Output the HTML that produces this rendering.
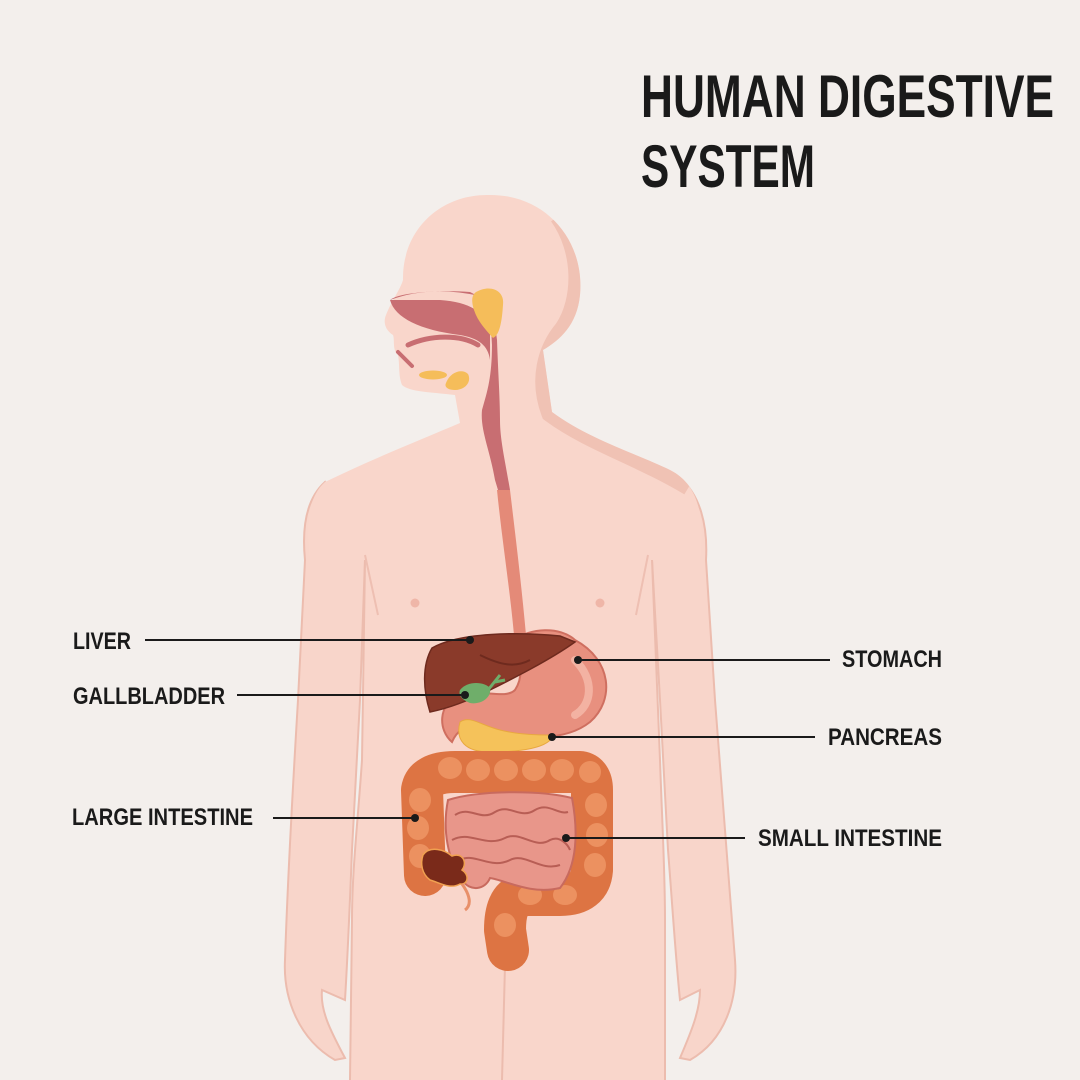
<!DOCTYPE html>
<html><head><meta charset="utf-8"><style>html,body{margin:0;padding:0;background:#f3efec}svg{display:block}</style></head>
<body>
<svg width="1080" height="1080" viewBox="0 0 1080 1080" xmlns="http://www.w3.org/2000/svg">
<defs>
<clipPath id="bc"><path d="M487 195 C545 193 585 240 580 295 C577 325 560 340 543 350 L552 412 C590 440 640 455 670 470 C700 485 705 520 700 560 L652 560 L660 760 C662 820 665 870 665 920 L665 1080 L350 1080 L352 920 C352 870 358 820 362 760 L365 560 L310 560 C305 520 310 495 325 482 C370 460 420 440 460 423 L455 395 C430 392 410 392 402 385 C398 375 400 365 398 355 C392 350 395 340 393 335 C385 330 383 322 386 315 C392 300 400 290 403 280 C402 230 440 195 487 195 Z"/></clipPath>
</defs>
<rect width="1080" height="1080" fill="#f3efec"/>
<path d="M325 482 C305 500 302 530 305 560 L298 700 C292 800 287 900 285 960 C283 1000 300 1040 335 1060 L345 1058 C330 1030 320 1010 322 990 L345 1000 C348 950 350 900 352 850 L360 700 L365 560 Z" fill="#f8d5ca" stroke="#ecbcae" stroke-width="2"/>
<path d="M680 478 C700 495 708 525 706 560 L715 700 C722 800 730 900 735 960 C738 1000 725 1040 690 1060 L680 1058 C692 1030 700 1010 700 990 L680 1000 C675 950 672 900 668 850 L660 700 L652 560 Z" fill="#f8d5ca" stroke="#ecbcae" stroke-width="2"/>
<path d="M487 195 C545 193 585 240 580 295 C577 325 560 340 543 350 L552 412 C590 440 640 455 670 470 C700 485 705 520 700 560 L652 560 L660 760 C662 820 665 870 665 920 L665 1080 L350 1080 L352 920 C352 870 358 820 362 760 L365 560 L310 560 C305 520 310 495 325 482 C370 460 420 440 460 423 L455 395 C430 392 410 392 402 385 C398 375 400 365 398 355 C392 350 395 340 393 335 C385 330 383 322 386 315 C392 300 400 290 403 280 C402 230 440 195 487 195 Z" fill="#f9d6cb"/>
<g clip-path="url(#bc)">
<path d="M560 215 C585 250 585 300 565 330 C548 350 540 380 552 412 C590 440 640 455 690 485" fill="none" stroke="#f0c2b4" stroke-width="22"/>
</g>
<path d="M365 560 L362 760 C358 820 352 870 352 920 L350 1080" fill="none" stroke="#ecbcae" stroke-width="2"/>
<path d="M652 560 L660 760 C662 820 665 870 665 920 L665 1080" fill="none" stroke="#ecbcae" stroke-width="2"/>
<path d="M505 965 L502 1080" stroke="#ecbcae" stroke-width="2"/>
<path d="M365 555 L378 615 M648 555 L636 615" stroke="#eebfb2" stroke-width="2" fill="none"/>
<circle cx="415" cy="603" r="4.5" fill="#efb6a8"/><circle cx="600" cy="603" r="4.5" fill="#efb6a8"/>
<path d="M390 300 C400 292 440 290 470 292 C478 296 485 300 490 310 L492 345 C492 380 486 395 482 410 C480 430 490 450 495 480 L498 490 L510 490 C505 460 500 440 500 420 C500 400 498 370 497 340 C495 320 490 305 480 296 Q430 285 390 300 Z" fill="#c86e72"/>
<path d="M390 300 C395 318 420 330 460 335 C478 338 488 345 490 360 L490 330 C485 312 470 302 440 300 Z" fill="#c86e72"/>
<path d="M408 345 C430 335 460 334 478 345" fill="none" stroke="#c86e72" stroke-width="5" stroke-linecap="round"/>
<path d="M398 352 L412 366" stroke="#c86e72" stroke-width="4" stroke-linecap="round"/>
<path d="M497 490 C502 540 510 590 514 635 L526 635 C522 590 516 540 510 490 Z" fill="#e48a78"/>
<path d="M476 292 C490 284 505 290 503 305 C502 320 500 335 493 338 C486 330 478 322 474 310 C471 300 472 295 476 292 Z" fill="#f5bd5a"/>
<ellipse cx="433" cy="375" rx="14" ry="4.5" fill="#f5bd5a"/>
<path d="M446 383 C450 372 462 368 468 374 C472 382 465 390 455 390 C448 390 444 387 446 383 Z" fill="#f5bd5a"/>
<path d="M514 640 C530 628 560 626 575 640 C612 660 615 700 590 722 C565 742 520 740 490 728 C470 722 458 728 452 742 C438 730 438 705 458 695 C480 688 505 700 515 690 C525 675 520 655 514 640 Z" fill="#e8907f" stroke="#cf6f60" stroke-width="2"/>
<path d="M575 660 C595 680 592 705 575 715" fill="none" stroke="#f3b2a2" stroke-width="8" stroke-linecap="round"/>
<path d="M460 722 C470 715 480 725 500 730 C520 735 540 735 553 735 C550 748 520 752 490 752 C465 752 455 740 460 722 Z" fill="#f5c25a" stroke="#e8a840" stroke-width="1"/>
<path d="M432 648 C460 632 520 632 560 636 L575 642 C550 660 510 680 490 690 C470 700 450 708 430 712 C423 690 422 665 432 648 Z" fill="#8a3a2a" stroke="#6e2a1e" stroke-width="1.5"/>
<path d="M480 655 C500 665 515 668 530 660" fill="none" stroke="#6e2a1e" stroke-width="2"/>
<path d="M460 690 C468 680 485 682 490 688 C492 698 480 705 470 703 C462 700 458 695 460 690 Z" fill="#6fae6a"/>
<path d="M488 690 L500 675 M495 682 L505 680" stroke="#6fae6a" stroke-width="3"/>
<path d="M425 875 L422 790 Q425 772 455 772 L580 772 Q592 774 592 790 L592 870 Q590 895 560 895 L520 895 Q505 900 505 930 L508 950" fill="none" stroke="#dd7443" stroke-width="42" stroke-linecap="round" stroke-linejoin="round"/>
<g fill="#ec9160">
<ellipse cx="450" cy="768" rx="12" ry="11"/><ellipse cx="478" cy="770" rx="12" ry="11"/><ellipse cx="506" cy="770" rx="12" ry="11"/><ellipse cx="534" cy="770" rx="12" ry="11"/><ellipse cx="562" cy="770" rx="12" ry="11"/><ellipse cx="590" cy="772" rx="11" ry="11"/>
<ellipse cx="420" cy="800" rx="11" ry="12"/><ellipse cx="418" cy="828" rx="11" ry="12"/><ellipse cx="420" cy="856" rx="11" ry="12"/>
<ellipse cx="596" cy="805" rx="11" ry="12"/><ellipse cx="597" cy="835" rx="11" ry="12"/><ellipse cx="595" cy="865" rx="11" ry="12"/>
<ellipse cx="565" cy="895" rx="12" ry="10"/><ellipse cx="530" cy="895" rx="12" ry="10"/><ellipse cx="505" cy="925" rx="11" ry="12"/>
</g>
<path d="M448 800 C480 790 540 790 572 798 C578 830 578 865 560 888 C530 895 505 880 490 878 C485 890 470 892 462 880 C448 860 442 830 448 800 Z" fill="#e8968a" stroke="#c86a5e" stroke-width="2"/>
<path d="M455 815 C470 805 480 822 495 812 C510 803 520 820 535 810 C548 802 558 815 568 812 M452 840 C470 830 485 848 505 838 C520 830 535 850 550 840 C560 835 568 845 570 850 M460 860 C475 852 490 870 510 860 C525 852 540 872 560 865" fill="none" stroke="#b85e55" stroke-width="2"/>
<path d="M423 855 C430 845 445 850 452 856 C462 852 468 862 462 870 C470 875 468 885 460 884 C450 890 438 882 430 880 C422 874 420 864 423 855 Z" fill="#7a2a1a" stroke="#f0a050" stroke-width="1.5"/>
<path d="M462 884 C470 895 472 905 465 910" fill="none" stroke="#e8906a" stroke-width="3"/>
<g stroke="#1a1a1a" stroke-width="2">
<line x1="145" y1="640" x2="470" y2="640"/><line x1="237" y1="695" x2="465" y2="695"/><line x1="273" y1="818" x2="415" y2="818"/>
<line x1="578" y1="660" x2="830" y2="660"/><line x1="552" y1="737" x2="815" y2="737"/><line x1="566" y1="838" x2="745" y2="838"/>
</g>
<g fill="#1a1a1a">
<circle cx="470" cy="640" r="4"/><circle cx="465" cy="695" r="4"/><circle cx="415" cy="818" r="4"/>
<circle cx="578" cy="660" r="4"/><circle cx="552" cy="737" r="4"/><circle cx="566" cy="838" r="4"/>
</g>
<g font-family="Liberation Sans, sans-serif" fill="#1a1a1a" font-weight="bold">
<text x="641" y="117" font-size="60" textLength="413" lengthAdjust="spacingAndGlyphs">HUMAN DIGESTIVE</text>
<text x="641" y="187" font-size="60" textLength="174" lengthAdjust="spacingAndGlyphs">SYSTEM</text>
<g font-size="24">
<text x="73" y="649" textLength="58" lengthAdjust="spacingAndGlyphs">LIVER</text>
<text x="73" y="704" textLength="152" lengthAdjust="spacingAndGlyphs">GALLBLADDER</text>
<text x="72" y="825" textLength="181" lengthAdjust="spacingAndGlyphs">LARGE INTESTINE</text>
<text x="842" y="667" textLength="100" lengthAdjust="spacingAndGlyphs">STOMACH</text>
<text x="828" y="745" textLength="114" lengthAdjust="spacingAndGlyphs">PANCREAS</text>
<text x="758" y="846" textLength="184" lengthAdjust="spacingAndGlyphs">SMALL INTESTINE</text>
</g>
</g>
</svg>
</body></html>
